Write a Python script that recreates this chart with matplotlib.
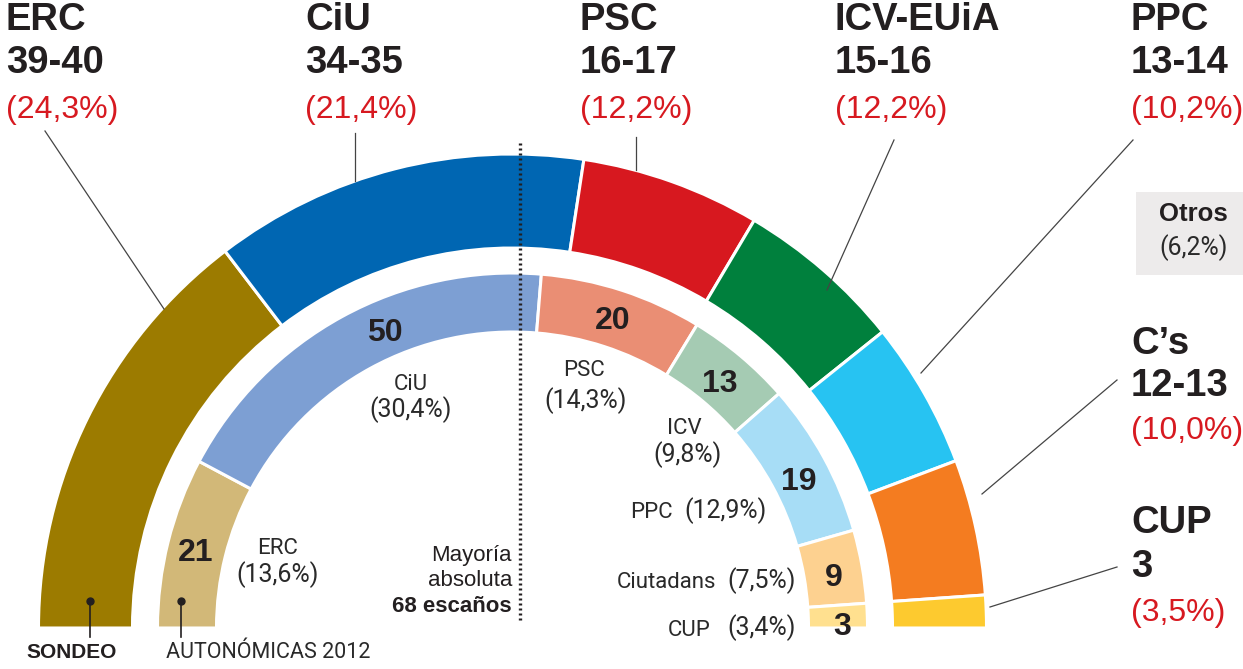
import matplotlib
matplotlib.use("Agg")
import matplotlib.pyplot as plt
from matplotlib.patches import Wedge, Rectangle

# ---------------- data ----------------
parties = ["ERC", "CiU", "PSC", "ICV-EUiA", "PPC", "C’s", "CUP"]
poll_low = [39, 34, 16, 15, 13, 12, 3]
poll_high = [40, 35, 17, 16, 14, 13, 3]
poll_seat_labels = ["39-40", "34-35", "16-17", "15-16", "13-14", "12-13", "3"]
poll_pct_labels = ["(24,3%)", "(21,4%)", "(12,2%)", "(12,2%)", "(10,2%)", "(10,0%)", "(3,5%)"]
otros_pct = "(6,2%)"

inner_names = ["ERC", "CiU", "PSC", "ICV", "PPC", "Ciutadans", "CUP"]
seats_2012 = [21, 50, 20, 13, 19, 9, 3]
pct_2012 = ["(13,6%)", "(30,4%)", "(14,3%)", "(9,8%)", "(12,9%)", "(7,5%)", "(3,4%)"]

total_seats = 135
majority = 68

outer_colors = ["#9C7B00", "#0066B2", "#D7181F", "#00803D", "#27C3F2", "#F47C20", "#FDCA2F"]
inner_colors = ["#D2B878", "#7D9FD3", "#EA8E74", "#A5CBB3", "#A7DDF6", "#FDD190", "#FFE08F"]

RED = "#D71920"
DARK = "#231F20"
GREY = "#2A2A2A"
LIGHT_W = 350

W, H = 1243, 669
fig = plt.figure(figsize=(W / 100, H / 100), dpi=100)
ax = fig.add_axes([0, 0, 1, 1])
ax.set_xlim(0, W)
ax.set_ylim(0, H)
ax.axis("off")


def Y(py):
    return H - py


cx, cy = 512.5, Y(628)
R1o, R1i = 474, 380
R2o, R2i = 355, 296


def draw_ring(values, colors, r_out, r_in):
    start = 0.0
    for v, c in zip(values, colors):
        t2 = 180 - start * 180 / total_seats
        t1 = 180 - (start + v) * 180 / total_seats
        ax.add_patch(Wedge((cx, cy), r_out, t1, t2, width=r_out - r_in,
                           facecolor=c, edgecolor="white", linewidth=2.2))
        start += v


poll_mid = [(a + b) / 2 for a, b in zip(poll_low, poll_high)]
draw_ring(poll_mid, outer_colors, R1o, R1i)
draw_ring(seats_2012, inner_colors, R2o, R2i)

# majority dotted line
ax.plot([520, 520], [Y(143), Y(622)], color=DARK, lw=2.4,
        linestyle=(0, (0.6, 0.9)), solid_capstyle="butt")
MAJ = dict(ha="right", va="center", fontsize=16, color=DARK, family="Liberation Sans")
ax.text(512, Y(555), "Mayoría", **MAJ)
ax.text(512, Y(580), "absoluta", **MAJ)
ax.text(512, Y(606), f"{majority} escaños", weight="bold", **MAJ)

BIG = dict(family="Liberation Sans", weight="bold", color=DARK, fontsize=27.5)
PCT = dict(family="Liberation Sans", color=RED, fontsize=23)

# top labels
top_x = [6, 305, 580, 835, 1131]
for i in range(5):
    ax.text(top_x[i], Y(20), parties[i], ha="left", va="center", **BIG)
    ax.text(top_x[i], Y(63), poll_seat_labels[i], ha="left", va="center", **BIG)
    ax.text(top_x[i], Y(110), poll_pct_labels[i], ha="left", va="center", **PCT)

# right labels
ax.text(1131, Y(344), parties[5], ha="left", va="center", **BIG)
ax.text(1131, Y(386), poll_seat_labels[5], ha="left", va="center", **BIG)
ax.text(1131, Y(431), poll_pct_labels[5], ha="left", va="center", **PCT)
ax.text(1131, Y(523), parties[6], ha="left", va="center", **BIG)
ax.text(1131, Y(567), poll_seat_labels[6], ha="left", va="center", **BIG)
ax.text(1131, Y(613), poll_pct_labels[6], ha="left", va="center", **PCT)

# Otros box
ax.add_patch(Rectangle((1136, Y(275)), 107, 83, facecolor="#EDEBEB", edgecolor="none"))
ax.text(1193, Y(214), "Otros", ha="center", va="center", family="Liberation Sans",
        weight="bold", color=DARK, fontsize=18.5)
ax.text(1194, Y(248), otros_pct, ha="center", va="center", family="Roboto",
        weight=LIGHT_W, color=GREY, fontsize=18)

# leader lines
leaders = [((45, 131), (164, 309)), ((355, 133), (355, 181)), ((636, 137), (636, 170)),
           ((894, 140), (827, 290)), ((1133, 140), (921, 373)),
           ((1117, 380), (982, 494)), ((1117, 567), (990, 607))]
for (x0, y0), (x1, y1) in leaders:
    ax.plot([x0, x1], [Y(y0), Y(y1)], color="#444444", lw=0.9)

# inner labels
NUM = dict(family="Liberation Sans", weight="bold", color=DARK, fontsize=23)
NAME = dict(family="Roboto", weight=LIGHT_W, color=GREY, fontsize=16)
SPCT = dict(family="Roboto", weight=LIGHT_W, color=GREY, fontsize=18)

num_pos = [(196, 553), (385, 333), (613, 321), (720, 384), (799, 482), (834, 578), (842, 627)]
for (x, y), s in zip(num_pos, seats_2012):
    ax.text(x, Y(y), str(s), ha="center", va="center", **NUM)

# stacked labels (name above pct)
ax.text(278, Y(548), inner_names[0], ha="center", va="center", **NAME)
ax.text(278, Y(575), pct_2012[0], ha="center", va="center", **SPCT)
ax.text(411, Y(385), inner_names[1], ha="center", va="center", **NAME)
ax.text(411, Y(410), pct_2012[1], ha="center", va="center", **SPCT)
ax.text(584, Y(371), inner_names[2], ha="center", va="center", **NAME)
ax.text(586, Y(401), pct_2012[2], ha="center", va="center", **SPCT)
ax.text(684, Y(429), inner_names[3], ha="center", va="center", **NAME)
ax.text(688, Y(455), pct_2012[3], ha="center", va="center", **SPCT)
# side-by-side labels
ax.text(673, Y(513), inner_names[4], ha="right", va="center", **NAME)
ax.text(684, Y(511), pct_2012[4], ha="left", va="center", **SPCT)
ax.text(716, Y(583), inner_names[5], ha="right", va="center", **NAME)
ax.text(727, Y(581), pct_2012[5], ha="left", va="center", **SPCT)
ax.text(711, Y(630), inner_names[6], ha="right", va="center", **NAME)
ax.text(727, Y(628), pct_2012[6], ha="left", va="center", **SPCT)

# bottom legend markers
for x in (90, 181):
    ax.plot([x, x], [Y(601), Y(637)], color=DARK, lw=1.2)
    ax.plot([x], [Y(601)], "o", color=DARK, ms=5)
ax.text(72, Y(653), "SONDEO", ha="center", va="center", family="Liberation Sans",
        weight="bold", color=DARK, fontsize=15)
ax.text(166, Y(653), "AUTONÓMICAS 2012", ha="left", va="center", family="Roboto",
        weight=LIGHT_W, color=GREY, fontsize=15.5)

fig.savefig("out.png", dpi=100)
